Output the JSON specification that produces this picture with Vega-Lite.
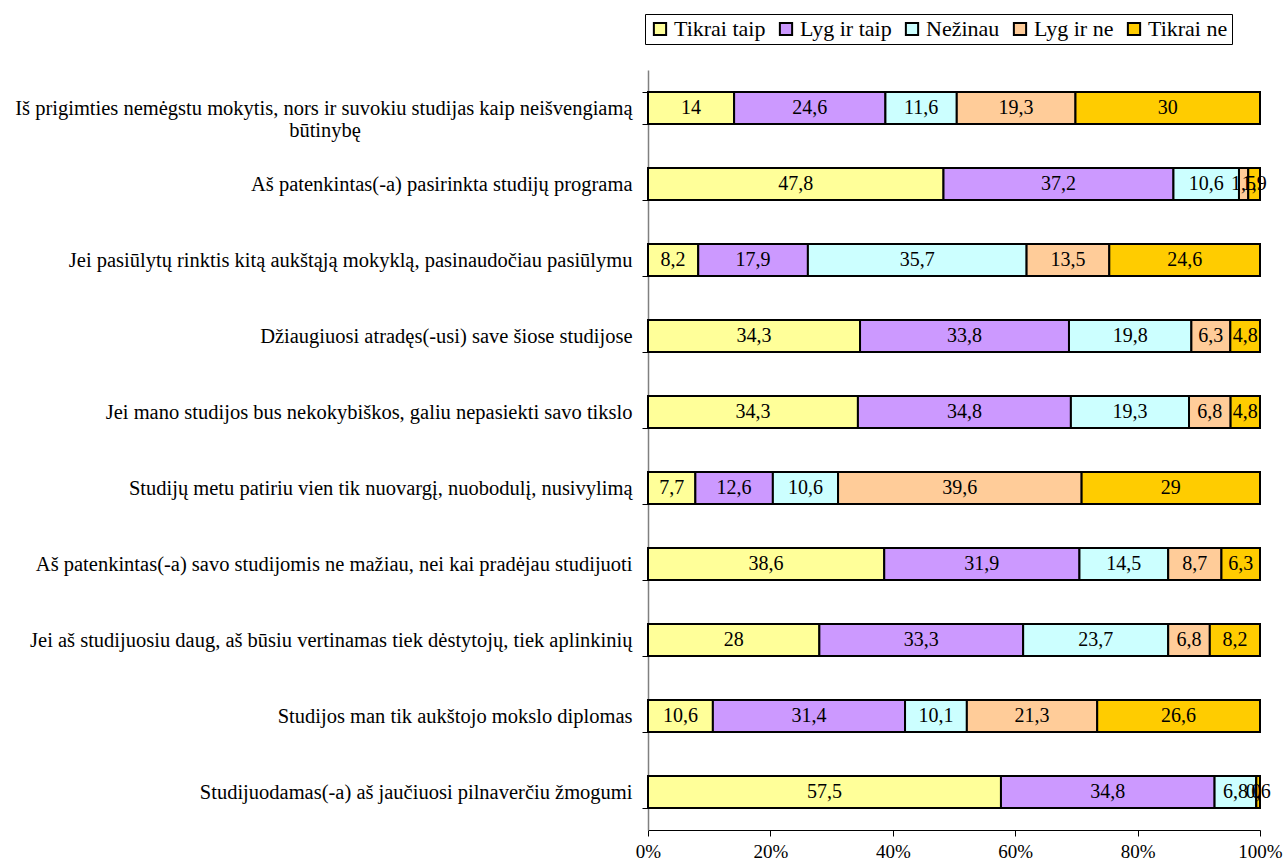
{
  "$schema": "https://vega.github.io/schema/vega-lite/v6.json",
  "autosize": "none",
  "width": 612,
  "height": 760,
  "padding": {"left": 648, "top": 70, "right": 27, "bottom": 33},
  "background": "white",
  "config": {
    "locale": {"number": {"decimal": ",", "thousands": " ", "grouping": [3], "currency": ["", " €"]}},
    "view": {"stroke": null},
    "font": "Liberation Serif"
  },
  "data": {
    "values": [
      {"q": "Iš prigimties nemėgstu mokytis, nors ir suvokiu studijas kaip neišvengiamą būtinybę", "a": "Tikrai taip", "v": 14},
      {"q": "Iš prigimties nemėgstu mokytis, nors ir suvokiu studijas kaip neišvengiamą būtinybę", "a": "Lyg ir taip", "v": 24.6},
      {"q": "Iš prigimties nemėgstu mokytis, nors ir suvokiu studijas kaip neišvengiamą būtinybę", "a": "Nežinau", "v": 11.6},
      {"q": "Iš prigimties nemėgstu mokytis, nors ir suvokiu studijas kaip neišvengiamą būtinybę", "a": "Lyg ir ne", "v": 19.3},
      {"q": "Iš prigimties nemėgstu mokytis, nors ir suvokiu studijas kaip neišvengiamą būtinybę", "a": "Tikrai ne", "v": 30},
      {"q": "Aš patenkintas(-a) pasirinkta studijų programa", "a": "Tikrai taip", "v": 47.8},
      {"q": "Aš patenkintas(-a) pasirinkta studijų programa", "a": "Lyg ir taip", "v": 37.2},
      {"q": "Aš patenkintas(-a) pasirinkta studijų programa", "a": "Nežinau", "v": 10.6},
      {"q": "Aš patenkintas(-a) pasirinkta studijų programa", "a": "Lyg ir ne", "v": 1.5},
      {"q": "Aš patenkintas(-a) pasirinkta studijų programa", "a": "Tikrai ne", "v": 1.9},
      {"q": "Jei pasiūlytų rinktis kitą aukštąją mokyklą, pasinaudočiau pasiūlymu", "a": "Tikrai taip", "v": 8.2},
      {"q": "Jei pasiūlytų rinktis kitą aukštąją mokyklą, pasinaudočiau pasiūlymu", "a": "Lyg ir taip", "v": 17.9},
      {"q": "Jei pasiūlytų rinktis kitą aukštąją mokyklą, pasinaudočiau pasiūlymu", "a": "Nežinau", "v": 35.7},
      {"q": "Jei pasiūlytų rinktis kitą aukštąją mokyklą, pasinaudočiau pasiūlymu", "a": "Lyg ir ne", "v": 13.5},
      {"q": "Jei pasiūlytų rinktis kitą aukštąją mokyklą, pasinaudočiau pasiūlymu", "a": "Tikrai ne", "v": 24.6},
      {"q": "Džiaugiuosi atradęs(-usi) save šiose studijose", "a": "Tikrai taip", "v": 34.3},
      {"q": "Džiaugiuosi atradęs(-usi) save šiose studijose", "a": "Lyg ir taip", "v": 33.8},
      {"q": "Džiaugiuosi atradęs(-usi) save šiose studijose", "a": "Nežinau", "v": 19.8},
      {"q": "Džiaugiuosi atradęs(-usi) save šiose studijose", "a": "Lyg ir ne", "v": 6.3},
      {"q": "Džiaugiuosi atradęs(-usi) save šiose studijose", "a": "Tikrai ne", "v": 4.8},
      {"q": "Jei mano studijos bus nekokybiškos, galiu nepasiekti savo tikslo", "a": "Tikrai taip", "v": 34.3},
      {"q": "Jei mano studijos bus nekokybiškos, galiu nepasiekti savo tikslo", "a": "Lyg ir taip", "v": 34.8},
      {"q": "Jei mano studijos bus nekokybiškos, galiu nepasiekti savo tikslo", "a": "Nežinau", "v": 19.3},
      {"q": "Jei mano studijos bus nekokybiškos, galiu nepasiekti savo tikslo", "a": "Lyg ir ne", "v": 6.8},
      {"q": "Jei mano studijos bus nekokybiškos, galiu nepasiekti savo tikslo", "a": "Tikrai ne", "v": 4.8},
      {"q": "Studijų metu patiriu vien tik nuovargį, nuobodulį, nusivylimą", "a": "Tikrai taip", "v": 7.7},
      {"q": "Studijų metu patiriu vien tik nuovargį, nuobodulį, nusivylimą", "a": "Lyg ir taip", "v": 12.6},
      {"q": "Studijų metu patiriu vien tik nuovargį, nuobodulį, nusivylimą", "a": "Nežinau", "v": 10.6},
      {"q": "Studijų metu patiriu vien tik nuovargį, nuobodulį, nusivylimą", "a": "Lyg ir ne", "v": 39.6},
      {"q": "Studijų metu patiriu vien tik nuovargį, nuobodulį, nusivylimą", "a": "Tikrai ne", "v": 29},
      {"q": "Aš patenkintas(-a) savo studijomis ne mažiau, nei kai pradėjau studijuoti", "a": "Tikrai taip", "v": 38.6},
      {"q": "Aš patenkintas(-a) savo studijomis ne mažiau, nei kai pradėjau studijuoti", "a": "Lyg ir taip", "v": 31.9},
      {"q": "Aš patenkintas(-a) savo studijomis ne mažiau, nei kai pradėjau studijuoti", "a": "Nežinau", "v": 14.5},
      {"q": "Aš patenkintas(-a) savo studijomis ne mažiau, nei kai pradėjau studijuoti", "a": "Lyg ir ne", "v": 8.7},
      {"q": "Aš patenkintas(-a) savo studijomis ne mažiau, nei kai pradėjau studijuoti", "a": "Tikrai ne", "v": 6.3},
      {"q": "Jei aš studijuosiu daug, aš būsiu vertinamas tiek dėstytojų, tiek aplinkinių", "a": "Tikrai taip", "v": 28},
      {"q": "Jei aš studijuosiu daug, aš būsiu vertinamas tiek dėstytojų, tiek aplinkinių", "a": "Lyg ir taip", "v": 33.3},
      {"q": "Jei aš studijuosiu daug, aš būsiu vertinamas tiek dėstytojų, tiek aplinkinių", "a": "Nežinau", "v": 23.7},
      {"q": "Jei aš studijuosiu daug, aš būsiu vertinamas tiek dėstytojų, tiek aplinkinių", "a": "Lyg ir ne", "v": 6.8},
      {"q": "Jei aš studijuosiu daug, aš būsiu vertinamas tiek dėstytojų, tiek aplinkinių", "a": "Tikrai ne", "v": 8.2},
      {"q": "Studijos man tik aukštojo mokslo diplomas", "a": "Tikrai taip", "v": 10.6},
      {"q": "Studijos man tik aukštojo mokslo diplomas", "a": "Lyg ir taip", "v": 31.4},
      {"q": "Studijos man tik aukštojo mokslo diplomas", "a": "Nežinau", "v": 10.1},
      {"q": "Studijos man tik aukštojo mokslo diplomas", "a": "Lyg ir ne", "v": 21.3},
      {"q": "Studijos man tik aukštojo mokslo diplomas", "a": "Tikrai ne", "v": 26.6},
      {"q": "Studijuodamas(-a) aš jaučiuosi pilnaverčiu žmogumi", "a": "Tikrai taip", "v": 57.5},
      {"q": "Studijuodamas(-a) aš jaučiuosi pilnaverčiu žmogumi", "a": "Lyg ir taip", "v": 34.8},
      {"q": "Studijuodamas(-a) aš jaučiuosi pilnaverčiu žmogumi", "a": "Nežinau", "v": 6.8},
      {"q": "Studijuodamas(-a) aš jaučiuosi pilnaverčiu žmogumi", "a": "Lyg ir ne", "v": 0},
      {"q": "Studijuodamas(-a) aš jaučiuosi pilnaverčiu žmogumi", "a": "Tikrai ne", "v": 0.6}
    ]
  },
  "transform": [
    {"calculate": "indexof(['Tikrai taip','Lyg ir taip','Nežinau','Lyg ir ne','Tikrai ne'], datum.a)", "as": "k"}
  ],
  "encoding": {
    "y": {
      "field": "q", "type": "nominal", "sort": null, "title": null,
      "scale": {"paddingInner": 0.58, "paddingOuter": 0.29},
      "axis": {
        "tickBand": "extent", "tickSize": 6, "tickColor": "black", "domainColor": "#808080", "domainWidth": 1.5,
        "labelFont": "Liberation Serif", "labelFontSize": 20.5, "labelColor": "black", "labelLimit": 0, "labelPadding": 10,
        "labelExpr": "indexof(datum.label, 'Iš prigimties') == 0 ? ['Iš prigimties nemėgstu mokytis, nors ir suvokiu studijas kaip neišvengiamą', 'būtinybę\u00a0\u00a0\u00a0\u00a0\u00a0\u00a0\u00a0\u00a0\u00a0\u00a0\u00a0\u00a0\u00a0\u00a0\u00a0\u00a0\u00a0\u00a0\u00a0\u00a0\u00a0\u00a0\u00a0\u00a0\u00a0\u00a0\u00a0\u00a0\u00a0\u00a0\u00a0\u00a0\u00a0\u00a0\u00a0\u00a0\u00a0\u00a0\u00a0\u00a0\u00a0\u00a0\u00a0\u00a0\u00a0\u00a0\u00a0\u00a0\u00a0\u00a0\u00a0\u00a0\u00a0\u200b'] : datum.label"
      }
    }
  },
  "layer": [
    {
      "mark": {"type": "bar", "stroke": "black", "strokeWidth": 2},
      "encoding": {
        "x": {
          "field": "v", "type": "quantitative", "stack": "normalize", "title": null,
          "scale": {"domain": [0, 1], "nice": false},
          "axis": {
            "format": ".0%", "values": [0, 0.2, 0.4, 0.6, 0.8, 1], "grid": false,
            "domainColor": "black", "tickColor": "black", "tickSize": 6,
            "labelFont": "Liberation Serif", "labelFontSize": 19, "labelColor": "black", "labelPadding": 6, "labelFlush": false
          }
        },
        "order": {"field": "k", "type": "quantitative"},
        "color": {
          "field": "a", "type": "nominal", "title": null,
          "sort": ["Tikrai taip", "Lyg ir taip", "Nežinau", "Lyg ir ne", "Tikrai ne"],
          "scale": {
            "domain": ["Tikrai taip", "Lyg ir taip", "Nežinau", "Lyg ir ne", "Tikrai ne"],
            "range": ["#FFFF99", "#CC99FF", "#CCFFFF", "#FFCC99", "#FFCC00"]
          },
          "legend": {
            "orient": "none", "legendX": -3, "legendY": -56, "direction": "horizontal",
            "symbolType": "square", "symbolSize": 150, "symbolStrokeColor": "black", "symbolStrokeWidth": 2,
            "labelFont": "Liberation Serif", "labelFontSize": 22, "labelColor": "black", "labelOffset": 3,
            "columnPadding": 9, "strokeColor": "black", "padding": 4, "fillColor": "white"
          }
        }
      }
    },
    {
      "mark": {"type": "text", "font": "Liberation Serif", "fontSize": 20, "color": "black"},
      "encoding": {
        "x": {"field": "v", "type": "quantitative", "stack": "normalize", "bandPosition": 0.5},
        "order": {"field": "k", "type": "quantitative"},
        "text": {"field": "v", "type": "quantitative", "format": ".1~f"}
      }
    }
  ]
}
